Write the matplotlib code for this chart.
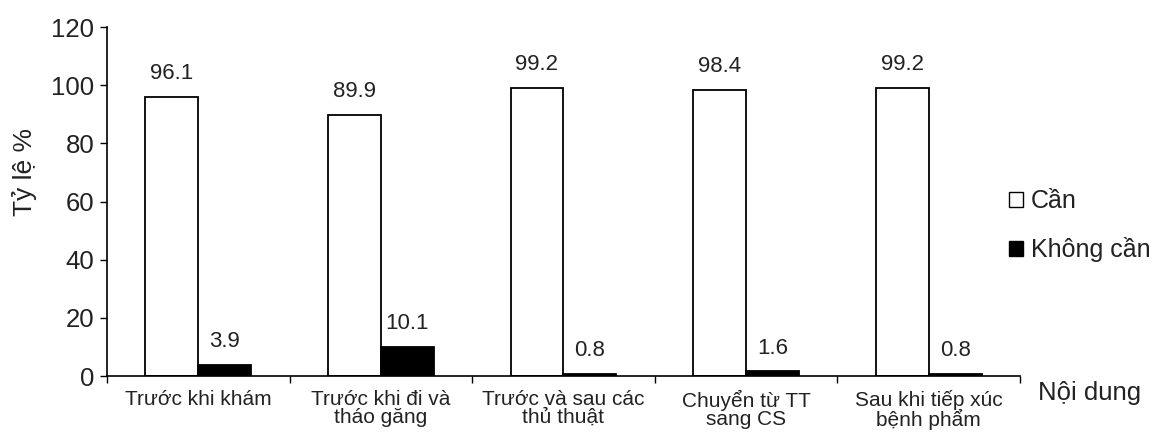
import numpy as np
import matplotlib
matplotlib.use("Agg")
import matplotlib.pyplot as plt
from matplotlib.patches import Patch

plt.rcParams['font.family'] = ['Liberation Sans', 'DejaVu Sans']

# Dữ liệu
categories = ["Trước khi khám", "Trước khi đi và\ntháo găng", "Trước và sau các\nthủ thuật",
              "Chuyển từ TT\nsang CS", "Sau khi tiếp xúc\nbệnh phẩm"]
can = [96.1, 89.9, 99.2, 98.4, 99.2]
khong_can = [3.9, 10.1, 0.8, 1.6, 0.8]
series_names = ["Cần", "Không cần"]
y_ticks = [0, 20, 40, 60, 80, 100, 120]

fig = plt.figure(figsize=(11.53, 4.36), dpi=100)
ax = fig.add_axes([0.0928, 0.1376, 0.7918, 0.8004])

x = np.arange(len(categories))
w = 0.29
b1 = ax.bar(x - w / 2, can, w, color="white", edgecolor="black", linewidth=1.3)
b2 = ax.bar(x + w / 2, khong_can, w, color="black", edgecolor="black", linewidth=1.3)

# Nhãn giá trị
for bars, vals in [(b1, can), (b2, khong_can)]:
    for r, v in zip(bars, vals):
        ax.annotate(f"{v:.1f}", (r.get_x() + r.get_width() / 2, v),
                    xytext=(0, 9), textcoords="offset points",
                    ha="center", va="bottom", fontsize=16, color="#222222")

ax.set_xlim(-0.5, len(categories) - 0.5)
ax.set_ylim(0, 120)
ax.set_yticks(y_ticks)
ax.tick_params(axis="y", labelsize=18.5, length=5, width=1, direction="out", pad=4, labelcolor="#222222")

# vạch chia giữa các nhóm, nhãn ở giữa
ax.set_xticks(np.arange(len(categories) + 1) - 0.5)
ax.set_xticklabels([])
ax.tick_params(axis="x", which="major", length=5, width=1, direction="out")
ax.set_xticks(x, minor=True)
ax.set_xticklabels(categories, minor=True, fontsize=15, linespacing=0.95, color="#222222")
ax.tick_params(axis="x", which="minor", length=0, pad=10)

for s in ["top", "right"]:
    ax.spines[s].set_visible(False)
ax.spines["left"].set_linewidth(1.2)
ax.spines["bottom"].set_linewidth(1.2)

fig.text(0.021, 0.605, "Tỷ lệ %", rotation=90, ha="center", va="center", fontsize=19, color="#222222")
fig.text(0.90, 0.098, "Nội dung", ha="left", va="center", fontsize=18.5, color="#222222")

handles = [Patch(facecolor="white", edgecolor="black", linewidth=1.0),
           Patch(facecolor="black", edgecolor="black")]
fig.legend(handles, series_names, loc="center left", bbox_to_anchor=(0.856, 0.482),
           frameon=False, fontsize=18, handlelength=0.55, handleheight=0.55,
           handletextpad=0.3, labelspacing=0.95, labelcolor="#222222")

fig.savefig("out.png", dpi=100)
